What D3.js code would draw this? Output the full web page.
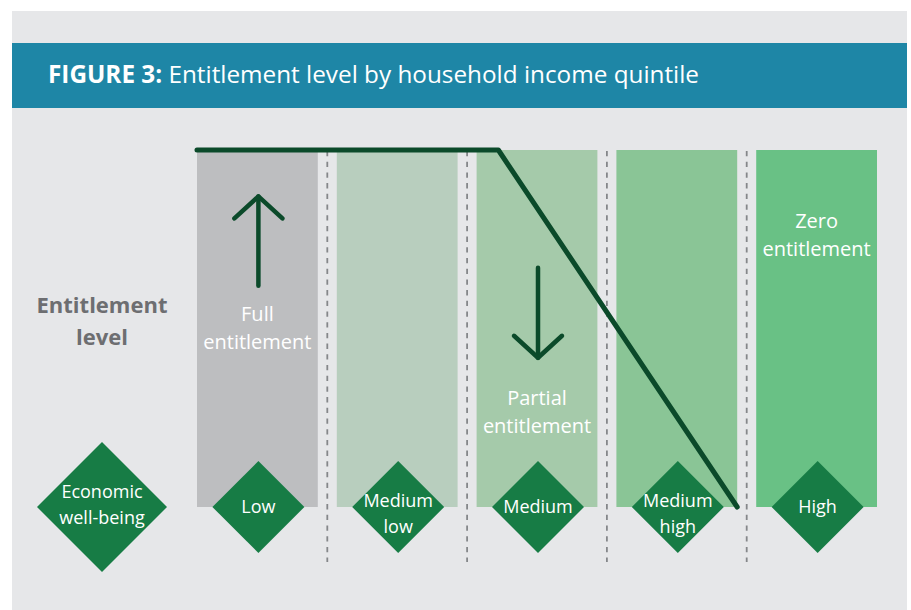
<!DOCTYPE html>
<html>
<head>
<meta charset="utf-8">
<script src="https://cdn.jsdelivr.net/npm/d3@7"></script>
<style>
  body { margin: 0; background: #fff; }
  svg text { font-family: "Open Sans", "Noto Sans", sans-serif; }
</style>
</head>
<body>
<svg id="chart" width="911" height="610"></svg>
<script>
// quintiles and their column fills
const quintiles = ['Low', 'Medium low', 'Medium', 'Medium high', 'High'];
const quintileLines = [['Low'], ['Medium', 'low'], ['Medium'], ['Medium', 'high'], ['High']];
const columnFills = ['#bdbec0', '#b8cebe', '#a5caaa', '#8ac596', '#69c185'];

// entitlement line: quintile, fraction across its column, entitlement level (1 = full)
const lineQuintile = ['Low', 'Medium', 'Medium high'];
const lineFraction = [0, 0.18, 1];
const lineLevel = [1, 1, 0];

const title = 'Entitlement level by household income quintile';

const svg = d3.select('#chart');

// background panel + header band
svg.append('rect')
  .attr('x', 12).attr('y', 11)
  .attr('width', 895).attr('height', 599)
  .attr('fill', '#e6e7e9');

svg.append('rect')
  .attr('x', 12).attr('y', 43)
  .attr('width', 895).attr('height', 65)
  .attr('fill', '#1e86a6');

const t = svg.append('text')
  .attr('x', 48).attr('y', 83)
  .attr('fill', '#fff')
  .style('font-size', '24.3px');
t.append('tspan').style('font-weight', 700).text('FIGURE 3: ');
t.append('tspan').text(title);

// scales
const x = d3.scaleBand()
  .domain(quintiles)
  .range([197, 877])
  .paddingInner(0.136)
  .paddingOuter(0);

const y = d3.scaleLinear()
  .domain([0, 1])
  .range([507, 150]);

// columns
svg.selectAll('.col')
  .data(quintiles)
  .join('rect')
  .attr('class', 'col')
  .attr('x', d => x(d))
  .attr('y', y(1))
  .attr('width', x.bandwidth())
  .attr('height', y(0) - y(1))
  .attr('fill', (d, i) => columnFills[i]);

// dashed dividers between columns
const gap = x.step() - x.bandwidth();
svg.selectAll('.divider')
  .data(quintiles.slice(1))
  .join('line')
  .attr('class', 'divider')
  .attr('x1', d => x(d) - gap / 2)
  .attr('x2', d => x(d) - gap / 2)
  .attr('y1', y(1) + 1)
  .attr('y2', 562)
  .attr('stroke', '#85878a')
  .attr('stroke-width', 1.8)
  .attr('stroke-dasharray', '5.3,5.4');

// side label
svg.append('text')
  .attr('x', 102).attr('text-anchor', 'middle')
  .attr('fill', '#6d6e71')
  .style('font-size', '22px')
  .style('font-weight', 700)
  .selectAll('tspan')
  .data(['Entitlement', 'level'])
  .join('tspan')
  .attr('x', 102)
  .attr('y', (d, i) => 313 + i * 32)
  .text(d => d);

// annotations inside columns
const annot = [
  { q: 'Low', level: 0.54, lines: ['Full', 'entitlement'] },
  { q: 'Medium', level: 0.305, lines: ['Partial', 'entitlement'] },
  { q: 'High', level: 0.8, lines: ['Zero', 'entitlement'] }
];
annot.forEach(a => {
  const cx = x(a.q) + x.bandwidth() / 2;
  svg.append('text')
    .attr('text-anchor', 'middle')
    .attr('fill', '#fff')
    .style('font-size', '20px')
    .selectAll('tspan')
    .data(a.lines)
    .join('tspan')
    .attr('x', cx)
    .attr('y', (d, i) => y(a.level) + 7 + i * 28)
    .text(d => d);
});

// arrows
const green = '#0b4a2a';
function arrow(q, from, to) {
  const cx = x(q) + x.bandwidth() / 2 + 1;
  const y0 = y(from), y1 = y(to);
  const dir = y1 > y0 ? 1 : -1;
  const g = svg.append('g')
    .attr('fill', 'none')
    .attr('stroke', green)
    .attr('stroke-width', 4.5)
    .attr('stroke-linecap', 'round')
    .attr('stroke-linejoin', 'round');
  g.append('line').attr('x1', cx).attr('x2', cx).attr('y1', y0).attr('y2', y1);
  g.append('path')
    .attr('d', d3.line()([[cx - 24, y1 - dir * 22], [cx, y1], [cx + 24, y1 - dir * 22]]));
}
arrow('Low', 0.62, 0.87);
arrow('Medium', 0.67, 0.418);

// entitlement line
const linePts = lineQuintile.map((q, i) => [x(q) + lineFraction[i] * x.bandwidth(), y(lineLevel[i])]);
svg.append('path')
  .attr('d', d3.line()(linePts))
  .attr('fill', 'none')
  .attr('stroke', green)
  .attr('stroke-width', 5)
  .attr('stroke-linecap', 'round')
  .attr('stroke-linejoin', 'round');

// diamonds
const diamondFill = '#177c45';
function diamond(cx, cy, r, lines, size, shift) {
  svg.append('path')
    .attr('d', d3.line()([[cx, cy - r], [cx + r, cy], [cx, cy + r], [cx - r, cy]]) + 'Z')
    .attr('fill', diamondFill);
  const lh = 26;
  const top = cy - (lines.length - 1) * lh / 2 + (lines.length > 1 ? shift : 0);
  svg.append('text')
    .attr('text-anchor', 'middle')
    .attr('fill', '#fff')
    .style('font-size', size + 'px')
    .selectAll('tspan')
    .data(lines)
    .join('tspan')
    .attr('x', cx)
    .attr('y', (d, i) => top + i * lh + 6)
    .text(d => d);
}
diamond(102, y(0), 65, ['Economic', 'well-being'], 18, -2);
quintiles.forEach((q, i) => {
  diamond(x(q) + x.bandwidth() / 2 + 1, y(0), 46, quintileLines[i], 18, 7);
});
</script>
</body>
</html>
